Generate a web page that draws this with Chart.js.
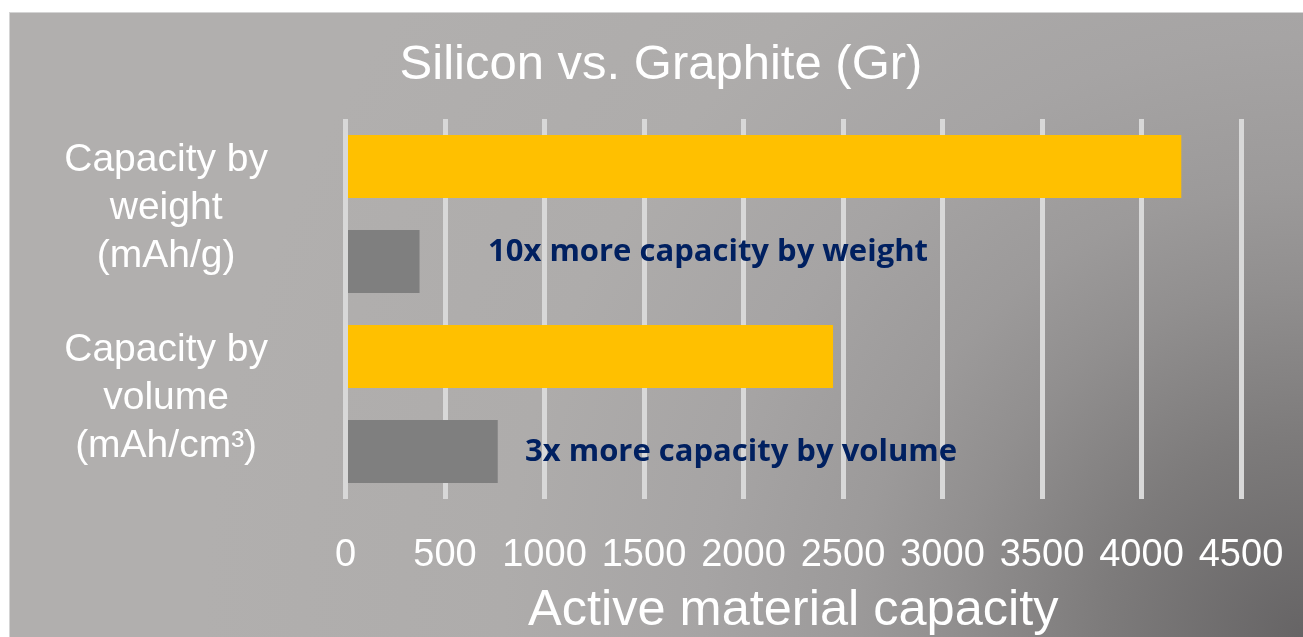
<!DOCTYPE html>
<html>
<head>
<meta charset="utf-8">
<title>Silicon vs. Graphite</title>
<script src="https://cdn.jsdelivr.net/npm/chart.js@4.4.0/dist/chart.umd.min.js"></script>
<style>
    html, body {
        margin: 0;
        padding: 0;
        background: #fff;
    }
    .slide {
        position: absolute;
        left: 9px;
        top: 12px;
        width: 1294px;
        height: 625px;
        box-shadow: inset 1px 1px 0 #d4d4d4;
        background: radial-gradient(circle at 100% 100%,
            #666465 0px, #7d7b7b 200px, #918f8f 350px, #9c9a9a 450px,
            #a6a4a4 600px, #aeacab 800px, #b1afae 1100px);
    }
</style>
</head>
<body>
<div class="slide">
    <canvas id="capChart"></canvas>
</div>
<script>
// data
const categories = [
    ["Capacity by", "weight", "(mAh/g)"],
    ["Capacity by", "volume", "(mAh/cm³)"]
];
const siliconValues = [4200, 2450];
const graphiteValues = [372, 765];
const axisMax = 4500;
const axisStep = 500;
const notes = ["10x more capacity by weight", "3x more capacity by volume"];

// where the notes sit (x in axis units, y shift from the graphite bar)
const notePos = [
    {at: 716, dy: -9},
    {at: 902, dy: 1}
];

Chart.defaults.font.family = '"Liberation Sans", Arial, sans-serif';
Chart.defaults.color = '#fff';

const notesPlugin = {
    id: 'notes',
    afterDatasetsDraw(chart) {
        const ctx = chart.ctx;
        const x = chart.scales.x;
        const bars = chart.getDatasetMeta(1).data;
        ctx.save();
        ctx.font = 'bold 31px "Open Sans", sans-serif';
        ctx.fillStyle = '#002060';
        ctx.textBaseline = 'middle';
        ctx.textAlign = 'left';
        notes.forEach(function (txt, i) {
            ctx.fillText(txt, x.getPixelForValue(notePos[i].at), bars[i].y + notePos[i].dy);
        });
        ctx.restore();
    }
};

const ctx = document.getElementById('capChart').getContext('2d');
const capChart = new Chart(ctx, {
    type: 'bar',
    data: {
        labels: categories,
        datasets: [
            {
                label: 'Silicon',
                data: siliconValues,
                backgroundColor: '#ffc000',
                barPercentage: 0.663,
                categoryPercentage: 1.0,
            }, {
                label: 'Graphite',
                data: graphiteValues,
                backgroundColor: '#7f7f7f',
                barPercentage: 0.663,
                categoryPercentage: 1.0,
            }
        ]
    },
    options: {
        indexAxis: 'y',
        responsive: true,
        maintainAspectRatio: false,
        animation: false,
        layout: {
            padding: {top: 0, right: 0, bottom: 0, left: 10}
        },
        plugins: {
            legend: {display: false},
            tooltip: {enabled: false},
            title: {
                display: true,
                text: 'Silicon vs. Graphite (Gr)',
                color: '#fff',
                font: {size: 49, weight: 'normal'},
                padding: {top: 23.6, bottom: 24.6}
            }
        },
        scales: {
            x: {
                min: 0,
                max: axisMax,
                ticks: {
                    stepSize: axisStep,
                    color: '#fff',
                    padding: 34,
                    maxRotation: 0,
                    minRotation: 0,
                    autoSkip: false,
                    font: {size: 38},
                    callback: function (value) {
                        return String(value);
                    }
                },
                grid: {
                    color: '#d8d8d8',
                    lineWidth: 5,
                    drawTicks: false
                },
                border: {display: false},
                title: {
                    display: true,
                    text: 'Active material capacity',
                    color: '#fff',
                    font: {size: 50.5, lineHeight: 1},
                    padding: {top: 0, bottom: 1}
                },
                afterFit: function (scale) {
                    scale.height = 138;
                    scale.paddingLeft = 0;
                    scale.paddingRight = 62;
                }
            },
            y: {
                grid: {display: false},
                border: {display: false},
                ticks: {
                    color: '#fff',
                    crossAlign: 'center',
                    padding: 69.5,
                    labelOffset: -6,
                    font: {size: 39, lineHeight: 1.23}
                },
                afterFit: function (scale) {
                    scale.width = 326.5;
                    scale.paddingTop = 0;
                    scale.paddingBottom = 0;
                }
            }
        }
    },
    plugins: [notesPlugin]
});
</script>
</body>
</html>
